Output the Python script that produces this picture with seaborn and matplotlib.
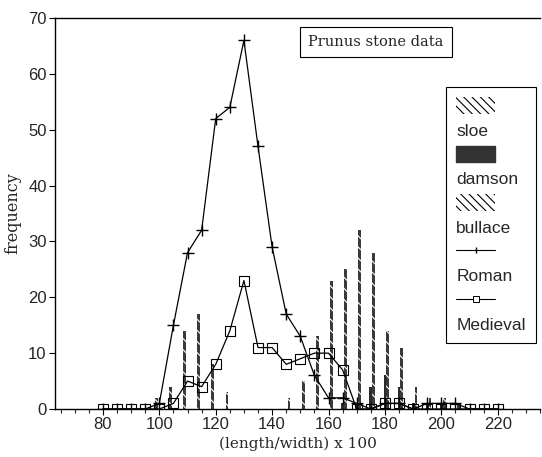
import matplotlib
matplotlib.use("Agg")
import matplotlib.pyplot as plt
import seaborn as sns
import numpy as np
from matplotlib.patches import Patch
from matplotlib.lines import Line2D

# ratio classes (length/width x 100)
ratio = [80, 85, 90, 95, 100, 105, 110, 115, 120, 125, 130, 135, 140, 145,
         150, 155, 160, 165, 170, 175, 180, 185, 190, 195, 200, 205, 210, 215, 220]

roman = [0, 0, 0, 0, 1, 15, 28, 32, 52, 54, 66, 47, 29, 17,
         13, 6, 2, 2, 1, 0, 1, 1, 0, 1, 1, 1, 0, 0, 0]
medieval = [0, 0, 0, 0, 0, 1, 5, 4, 8, 14, 23, 11, 11, 8,
            9, 10, 10, 7, 0, 0, 1, 1, 0, 0, 0, 0, 0, 0, 0]

# modern reference stones, bar groups
bar_ratio = [100, 105, 110, 115, 120, 125, 130, 135, 140, 145, 150,
             155, 160, 165, 170, 175, 180, 185, 190, 195, 200, 205]
sloe = [2, 4, 14, 17, 8, 3, 0, 0, 0, 0, 0,
        0, 0, 0, 0, 0, 0, 0, 0, 0, 0, 0]
damson = [0, 0, 0, 0, 0, 0, 0, 0, 0, 0, 0,
          0, 0, 1, 1, 4, 6, 4, 1, 1, 1, 0]
bullace = [0, 0, 0, 0, 0, 0, 0, 0, 0, 2, 5,
           13, 23, 25, 32, 28, 14, 11, 4, 2, 2, 1]

sns.set_style("ticks")
plt.rcParams["hatch.linewidth"] = 0.8
plt.rcParams["font.family"] = ["Liberation Sans", "DejaVu Sans"]

fig = plt.figure(figsize=(5.42, 4.57), dpi=100)
ax = fig.add_axes([55 / 542, 1 - 409 / 457, 485 / 542, 391 / 457])

bx = np.array(bar_ratio)
# hatched bars: white hatch over dark fill gives the speckled scan look
ax.bar(bx - 1, sloe, width=1.0, facecolor="#3a3a3a", edgecolor="white",
       hatch="\\\\\\", linewidth=0)
ax.bar(bx, damson, width=1.0, color="#2a2a2a", linewidth=0)
ax.bar(bx + 1, bullace, width=1.0, facecolor="#3a3a3a", edgecolor="white",
       hatch="\\\\\\", linewidth=0)

sns.lineplot(x=ratio, y=roman, ax=ax, color="black", linewidth=0.9,
             marker="+", markersize=9, markeredgewidth=1.0,
             markeredgecolor="black")
sns.lineplot(x=ratio, y=medieval, ax=ax, color="black", linewidth=0.9,
             marker="s", markersize=6.5, markerfacecolor="none",
             markeredgecolor="black", markeredgewidth=0.8)

ax.set_xlim(63, 235)
ax.set_ylim(0, 70)
ax.set_xticks([80, 100, 120, 140, 160, 180, 200, 220])
ax.set_xticks(np.arange(65, 236, 5), minor=True)
ax.set_yticks(np.arange(0, 71, 10))
ax.tick_params(axis="both", labelsize=12, color="black", width=0.8,
               length=4, pad=2)
ax.tick_params(axis="x", which="minor", length=3, width=0.8)
for s in ["left", "bottom", "top"]:
    ax.spines[s].set_linewidth(1.0)
    ax.spines[s].set_color("black")
ax.spines["right"].set_visible(False)

ax.set_xlabel("(length/width) x 100", family="DejaVu Serif", fontsize=11,
              labelpad=3)
ax.set_ylabel("frequency", family="DejaVu Serif", fontsize=11.5, labelpad=5)

fig.text(376 / 542, 1 - 42 / 457, "Prunus stone data", family="DejaVu Serif",
         fontsize=10.5, ha="center", va="center",
         bbox=dict(boxstyle="square,pad=0.55", fc="white", ec="black", lw=0.8))

blank = Patch(facecolor="none", edgecolor="none")
handles = [
    Patch(facecolor="white", edgecolor="black", hatch="\\\\\\\\", linewidth=0),
    blank,
    Patch(facecolor="#333333", edgecolor="#333333"),
    blank,
    Patch(facecolor="white", edgecolor="black", hatch="\\\\\\\\", linewidth=0),
    blank,
    Line2D([], [], color="black", linewidth=0.8, marker="|", markersize=5),
    blank,
    Line2D([], [], color="black", linewidth=0.8, marker="s", markersize=4,
           markerfacecolor="white", markeredgewidth=0.7),
    blank,
]
labels = ["", "sloe", "", "damson", "", "bullace", "", "Roman", "", "Medieval"]
leg = ax.legend(handles, labels, loc="upper left",
                bbox_to_anchor=(446 / 542, 1 - 87 / 457),
                bbox_transform=fig.transFigure, fontsize=12.5,
                handlelength=2.2, handleheight=1.05, handletextpad=-2.2,
                labelspacing=0.42, borderpad=0.6, borderaxespad=0,
                fancybox=False, framealpha=1, edgecolor="black")
leg.get_frame().set_linewidth(0.8)

fig.savefig("out.png", dpi=100)
